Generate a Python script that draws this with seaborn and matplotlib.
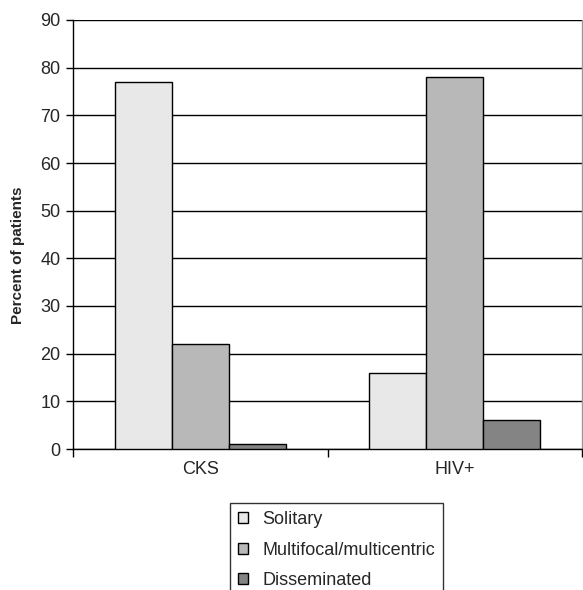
import matplotlib
matplotlib.use("Agg")
import matplotlib.pyplot as plt
import seaborn as sns
import pandas as pd

groups = ["CKS", "HIV+"]
series = ["Solitary", "Multifocal/multicentric", "Disseminated"]
solitary = [77, 16]
multifocal = [22, 78]
disseminated = [1, 6]
colors = ["#E8E8E8", "#B8B8B8", "#848484"]

rows = []
for name, vals in zip(series, [solitary, multifocal, disseminated]):
    for g, v in zip(groups, vals):
        rows.append({"group": g, "series": name, "value": v})
df = pd.DataFrame(rows)

sns.set_style("white")
plt.rcParams["font.family"] = ["Liberation Sans", "DejaVu Sans"]

fig = plt.figure(figsize=(5.83, 5.90), dpi=100)
ax = fig.add_axes([73/583, 1-449/590, 509/583, 429/590])

sns.barplot(data=df, x="group", y="value", hue="series", hue_order=series,
            palette=colors, width=0.67, edgecolor="black", linewidth=1.0,
            ax=ax, legend=True, zorder=3)

ax.set_ylim(0, 90)
ax.set_xlim(-0.5, 1.5)
ax.set_yticks(range(0, 91, 10))
ax.yaxis.grid(True, color="black", linewidth=1.0, zorder=0)
ax.set_axisbelow(True)
ax.xaxis.grid(False)

for s in ["left", "bottom"]:
    ax.spines[s].set_color("black")
    ax.spines[s].set_linewidth(1.0)
ax.spines["top"].set_visible(False)
ax.spines["right"].set_color("#999999")
ax.spines["right"].set_linewidth(1.0)

ax.tick_params(axis="y", which="major", direction="out", length=5, width=1,
               color="black", labelsize=13, pad=4, left=True)
ax.tick_params(axis="x", which="major", length=0, labelsize=13, pad=9)
ax.set_xticks([-0.5, 0.5, 1.5], minor=True)
ax.tick_params(axis="x", which="minor", direction="out", length=6, width=1,
               color="black", bottom=True)

ax.set_xlabel("")
ax.set_ylabel("Percent of patients", fontsize=11, fontweight="bold")
ax.yaxis.set_label_coords(-0.094, 0.452)

h, l = ax.get_legend_handles_labels()
ax.get_legend().remove()
leg = fig.legend(h, l, loc="upper left", bbox_to_anchor=(230/583, 1-503/590),
                 bbox_transform=fig.transFigure, frameon=True, fancybox=False,
                 edgecolor="black", fontsize=13, handlelength=0.55,
                 handleheight=0.55, labelspacing=0.75, borderpad=0.45,
                 handletextpad=0.8, borderaxespad=0)
leg.get_frame().set_linewidth(1.0)

fig.savefig("out.png", dpi=100)
